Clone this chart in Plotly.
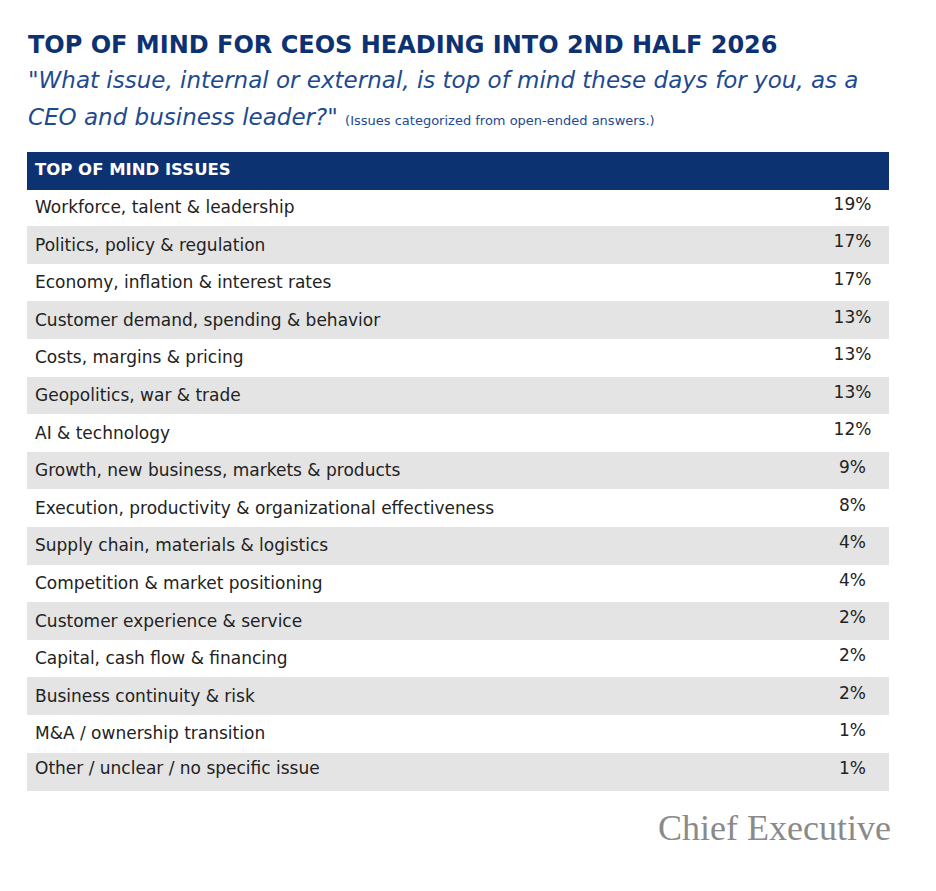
import plotly.graph_objects as go

issues = ["Workforce, talent & leadership","Politics, policy & regulation","Economy, inflation & interest rates",
"Customer demand, spending & behavior","Costs, margins & pricing","Geopolitics, war & trade","AI & technology",
"Growth, new business, markets & products","Execution, productivity & organizational effectiveness",
"Supply chain, materials & logistics","Competition & market positioning","Customer experience & service",
"Capital, cash flow & financing","Business continuity & risk","M&A / ownership transition",
"Other / unclear / no specific issue"]
shares = [19,17,17,13,13,13,12,9,8,4,4,2,2,2,1,1]

W, H = 920, 875
OFF = 8
def px(x): return (x - OFF) / W
def py(y): return 1 - (y - OFF) / H

NAVY = "#0d3272"
fills = ["#ffffff" if i % 2 == 0 else "#e4e4e4" for i in range(len(issues))]
FONT = "DejaVu Sans"

fig = go.Figure(go.Table(
    domain=dict(x=[px(27), px(888)], y=[py(800), py(152)]),
    columnwidth=[790, 71],
    header=dict(values=["<b>TOP OF MIND ISSUES</b>", ""], fill_color=NAVY, line_color=NAVY,
                font=dict(color="white", size=16.5, family=FONT), align="left", height=37),
    cells=dict(values=[issues, [f"{v}%" for v in shares]],
               fill_color=[fills, fills], line_color=[fills, fills],
               font=dict(color="#222222", size=17, family=FONT),
               align=["left", "center"], height=37.6),
))
fig.update_layout(width=W, height=H, margin=dict(l=0, r=0, t=0, b=0),
                  paper_bgcolor="white", plot_bgcolor="white", showlegend=False)
fig.add_annotation(x=px(26), y=py(45), xref="paper", yref="paper", xanchor="left", yanchor="middle",
                   text="<b>TOP OF MIND FOR CEOS HEADING INTO 2ND HALF 2026</b>", showarrow=False,
                   font=dict(size=24, color=NAVY, family=FONT))
fig.add_annotation(x=px(26), y=py(80), xref="paper", yref="paper", xanchor="left", yanchor="middle",
                   text="<i>\"What issue, internal or external, is top of mind these days for you, as a</i>", showarrow=False,
                   font=dict(size=23, color="#1d4a8f", family=FONT))
fig.add_annotation(x=px(26), y=py(117), xref="paper", yref="paper", xanchor="left", yanchor="middle",
                   text="<i>CEO and business leader?\"</i> <span style='font-size:13px'>(Issues categorized from open-ended answers.)</span>",
                   showarrow=False, font=dict(size=23, color="#1d4a8f", family=FONT))
fig.add_annotation(x=px(893), y=py(828), xref="paper", yref="paper", xanchor="right", yanchor="middle",
                   text="Chief Executive", showarrow=False,
                   font=dict(size=36, color="#8a8a8a", family="Liberation Serif"))
fig.write_html("out.html")
